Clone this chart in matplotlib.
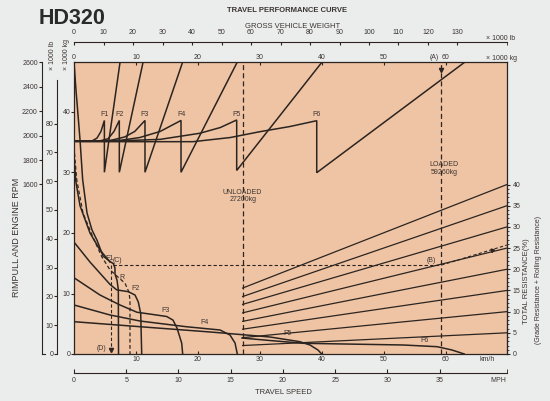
import matplotlib.pyplot as plt
from matplotlib.lines import Line2D

plt.rcParams['font.family'] = ['Liberation Sans', 'DejaVu Sans']

# ---------------- data ----------------
# engine rpm vs travel speed (km/h), one polyline per gear
g1_v = [0, 2.9, 3.7, 4.35, 4.9, 4.9, 7.42]
g1_rpm = [1955, 1957, 1980, 2035, 2125, 1700, 2600]
g2_v = [0, 4.2, 5.5, 6.45, 7.31, 7.31, 11.13]
g2_rpm = [1955, 1957, 1975, 2035, 2125, 1700, 2600]
g3_v = [0, 5.8, 8.2, 9.8, 11.45, 11.45, 17.5]
g3_rpm = [1955, 1960, 1990, 2035, 2125, 1700, 2600]
g4_v = [0, 7.4, 10.6, 13.9, 17.26, 17.26, 26.3]
g4_rpm = [1955, 1961, 1985, 2035, 2125, 1700, 2600]
g5_v = [0, 9.0, 13.9, 20.3, 23.6, 26.24, 26.24, 39.95]
g5_rpm = [1955, 1961, 1970, 2020, 2067, 2129, 1715, 2600]
g6_v = [0, 19.2, 25.2, 30.0, 34.8, 39.15, 39.15, 62.95]
g6_rpm = [1951, 1951, 1985, 2033, 2075, 2123, 1697, 2600]
gear_names = ['F1', 'F2', 'F3', 'F4', 'F5', 'F6']
gear_peak_v = [4.9, 7.31, 11.45, 17.26, 26.24, 39.15]

# rimpull (x1000 kg) vs travel speed (km/h)
f1_v = [0, 0.32, 0.65, 0.97, 1.40, 2.10, 2.90, 3.71, 4.68, 5.81, 6.37, 6.61, 6.61, 6.94, 7.15, 7.18]
f1_t = [48.3, 43.6, 39.5, 35.4, 28.8, 23.3, 20.5, 18.8, 16.2, 15.3, 14.9, 14.2, 13.2, 12.2, 10.6, 0]
s2_v = [0, 0.3, 0.97, 2.58, 4.19, 5.81]
s2_t = [32.5, 28.5, 24.5, 20.0, 17.2, 15.2]
r_v = [0, 0.44, 1.45, 3.06, 4.52, 5.81, 6.89, 8.23, 8.87, 9.03, 9.03]
r_t = [34.2, 28.8, 23.3, 19.3, 16.0, 13.9, 12.9, 11.7, 10.2, 8.9, 0]
f2_v = [0, 2.58, 5.81, 6.89, 8.76, 9.84, 10.37, 10.76, 10.92]
f2_t = [18.5, 15.2, 11.5, 10.6, 10.3, 9.75, 8.6, 6.7, 0]
f3_v = [0, 4.19, 7.42, 10.16, 12.26, 14.95, 15.97, 16.61, 17.37, 17.53]
f3_t = [12.6, 9.75, 8.1, 6.9, 6.6, 6.2, 5.6, 4.3, 1.8, 0]
f4_v = [0, 5.81, 10.65, 18.18, 23.55, 25.16, 25.97, 26.34]
f4_t = [8.1, 6.45, 5.45, 4.5, 3.97, 3.14, 1.82, 0]
f5_v = [0, 10.65, 21.94, 31.61, 36.45, 38.06, 39.35, 39.95]
f5_t = [5.34, 4.51, 3.64, 2.81, 2.03, 1.49, 0.66, 0]
f6_v = [27.1, 31.6, 36.94, 53.06, 58.55, 60.97, 62.95]
f6_t = [2.64, 2.23, 1.77, 1.49, 1.21, 0.66, 0]

# gross vehicle weight (x1000 kg) and total resistance lines
unloaded_t = 27.2
loaded_t = 59.26
res_pct = [5, 10, 15, 20, 25, 30, 35, 40]
res_span = [27.2, 69.8]
res_left = [1.4, 2.7, 4.1, 5.4, 6.8, 8.2, 9.5, 10.9]
res_right = [3.5, 7.0, 10.5, 14.0, 17.5, 21.0, 24.5, 28.0]

# worked example (A)-(B)-(C)-(D)
ex_rimpull = 14.7
ex_speed = 5.9
ex_c_speed = 6.3
ex_b_end = [69.8, 18.0]

# ---------------- layout ----------------
W, H = 550, 401
BG = '#ebedec'
PEACH = '#efc4a4'
INK = '#2b2420'
TXT = '#3b3431'


def fx(px):
    return px / W


def fy(py):
    return 1 - py / H


KMH_MAX = 433 / 6.2
T_MAX = 292 / 6.05
RPM_LO = 2000 - (354 - 135.7) / 0.122
RPM_HI = 2000 + (135.7 - 62) / 0.122

fig = plt.figure(figsize=(5.5, 4.01), dpi=100, facecolor=BG)

ax = fig.add_axes([fx(74), fy(354), 433 / W, 292 / H])
ax.set_facecolor(PEACH)
ax.set_xlim(0, KMH_MAX)
ax.set_ylim(0, T_MAX)
for s in ax.spines.values():
    s.set_color(INK)
    s.set_linewidth(0.9)
ax.set_xticks(range(10, 70, 10))
ax.set_yticks(range(0, 41, 10))
ax.tick_params(axis='x', direction='in', length=2.5, labelsize=5, pad=1.5,
               color=INK, labelcolor=TXT)
ax.tick_params(axis='y', direction='out', length=2, labelsize=5, pad=0.5,
               color=INK, labelcolor=TXT)

# rimpull curves
for xs, ys in [(f1_v, f1_t), (s2_v, s2_t), (f2_v, f2_t), (f3_v, f3_t),
               (f4_v, f4_t), (f5_v, f5_t), (f6_v, f6_t)]:
    ax.plot(xs, ys, color=INK, lw=1.1, solid_joinstyle='round')
ax.plot(r_v, r_t, color=INK, lw=0.9, ls=(0, (3, 2)))

# example dashed lines
ax.plot([ex_c_speed, loaded_t], [ex_rimpull, ex_rimpull], color=INK, lw=0.8, ls=(0, (3, 2)))
ax.plot([ex_speed, ex_speed], [ex_rimpull, 0.6], color=INK, lw=0.8, ls=(0, (3, 2)))
ax.plot([ex_speed], [0.6], marker='v', ms=3, color=INK)
ax.plot([loaded_t, ex_b_end[0]], [ex_rimpull, ex_b_end[1]], color=INK, lw=0.8, ls=(0, (3, 2)))
ax.plot([67.4], [17.25], marker=(3, 0, -73), ms=3, color=INK)

fs = 5
ax.text(5.65, 15.8, 'F1', fontsize=fs, color=TXT, ha='center', va='center')
ax.text(7.05, 15.45, '(C)', fontsize=fs, color=TXT, ha='center', va='center')
ax.text(7.7, 12.7, 'R', fontsize=fs, color=TXT, ha='center', va='center')
ax.text(9.9, 10.8, 'F2', fontsize=fs, color=TXT, ha='center', va='center')
ax.text(14.7, 7.2, 'F3', fontsize=fs, color=TXT, ha='center', va='center')
ax.text(21.1, 5.2, 'F4', fontsize=fs, color=TXT, ha='center', va='center')
ax.text(34.5, 3.4, 'F5', fontsize=fs, color=TXT, ha='center', va='center')
ax.text(56.6, 2.3, 'F6', fontsize=fs, color=TXT, ha='center', va='center')
ax.text(4.5, 0.9, '(D)', fontsize=fs, color=TXT, ha='center', va='center')
ax.text(57.7, 15.45, '(B)', fontsize=fs, color=TXT, ha='center', va='center')
ax.text(66.6, -0.95, 'km/h', fontsize=fs, color=TXT, ha='center', va='center')

# engine rpm (upper sawtooth)
ax_rpm = ax.twinx()
ax_rpm.set_ylim(RPM_LO, RPM_HI)
ax_rpm.set_axis_off()
for xs, ys in [(g1_v, g1_rpm), (g2_v, g2_rpm), (g3_v, g3_rpm),
               (g4_v, g4_rpm), (g5_v, g5_rpm), (g6_v, g6_rpm)]:
    ax_rpm.plot(xs, ys, color=INK, lw=1.1, solid_joinstyle='miter')
for name, v in zip(gear_names, gear_peak_v):
    ax_rpm.text(v, 2172, name, fontsize=fs, color=TXT, ha='center', va='center')

# gross vehicle weight (top kg axis) and resistance lines
ax_w = ax.twiny()
ax_w.set_xlim(0, KMH_MAX)
for s in ax_w.spines.values():
    s.set_visible(False)
ax_w.set_xticks(range(0, 61, 10))
ax_w.tick_params(axis='x', direction='in', length=2.5, labelsize=5, pad=1,
                 color=INK, labelcolor=TXT)
for yl, yr in zip(res_left, res_right):
    ax_w.plot(res_span, [yl, yr], color=INK, lw=0.9)
ax_w.axvline(unloaded_t, color=INK, lw=0.9, ls=(0, (4, 2.5)))
ax_w.axvline(loaded_t, color=INK, lw=0.9, ls=(0, (4, 2.5)))
ax_w.plot([loaded_t], [46.9], marker='v', ms=3, color=INK)
ax_w.text(unloaded_t, 26.1, 'UNLOADED\n27200kg', fontsize=5, color=TXT,
          ha='center', va='center', linespacing=1.1)
ax_w.text(loaded_t + 0.4, 30.7, 'LOADED\n59260kg', fontsize=5, color=TXT,
          ha='center', va='center', linespacing=1.1)

# total resistance axis (right)
ax_pct = ax.twinx()
ax_pct.set_ylim(0, T_MAX / 0.7)
for k in ['left', 'top', 'bottom']:
    ax_pct.spines[k].set_visible(False)
ax_pct.spines['right'].set_bounds(0, 40)
ax_pct.spines['right'].set_color(INK)
ax_pct.set_yticks(res_pct + [0])
ax_pct.set_yticks(range(0, 41), minor=True)
ax_pct.tick_params(axis='y', which='major', direction='out', length=2.5,
                   labelsize=5, pad=1.5, color=INK, labelcolor=TXT)
ax_pct.tick_params(axis='y', which='minor', direction='out', length=1.3, color=INK)

# left rpm axis
ax_lr = fig.add_axes([fx(42), fy(354), 1e-4, 292 / H])
ax_lr.set_ylim(RPM_LO, RPM_HI)
ax_lr.set_xticks([])
ax_lr.patch.set_visible(False)
for k in ['right', 'top', 'bottom']:
    ax_lr.spines[k].set_visible(False)
ax_lr.spines['left'].set_color(INK)
ax_lr.spines['left'].set_linewidth(0.8)
ax_lr.set_yticks(range(1600, 2601, 200))
ax_lr.tick_params(axis='y', direction='out', length=2.5, labelsize=5, pad=0.5,
                  color=INK, labelcolor=TXT)
fig.add_artist(Line2D([fx(42), fx(45)], [fy(354), fy(354)], color=INK, lw=0.8))

# left lb rimpull axis
ax_ll = fig.add_axes([fx(57), fy(354), 1e-4, 292 / H])
ax_ll.set_ylim(0, 292 / 2.88)
ax_ll.set_xticks([])
ax_ll.patch.set_visible(False)
for k in ['right', 'top', 'bottom']:
    ax_ll.spines[k].set_visible(False)
ax_ll.spines['left'].set_bounds(0, (354 - 80) / 2.88)
ax_ll.spines['left'].set_color(INK)
ax_ll.spines['left'].set_linewidth(0.8)
ax_ll.set_yticks(range(0, 81, 10))
ax_ll.tick_params(axis='y', direction='out', length=2, labelsize=5, pad=0.5,
                  color=INK, labelcolor=TXT)

# top lb gross weight axis
ax_tl = fig.add_axes([fx(74), fy(41.5), 433 / W, 1e-4])
ax_tl.set_xlim(0, 433 / 2.95)
ax_tl.set_yticks([])
ax_tl.patch.set_visible(False)
for k in ['left', 'right', 'top']:
    ax_tl.spines[k].set_visible(False)
ax_tl.spines['bottom'].set_color(INK)
ax_tl.spines['bottom'].set_linewidth(0.8)
ax_tl.set_xticks(range(0, 131, 10))
ax_tl.set_xticks([433 / 2.95], minor=True)
ax_tl.tick_params(axis='x', which='both', bottom=True, top=False, labelbottom=False,
                  labeltop=True, direction='out', length=2.5, labelsize=5, pad=1.5,
                  color=INK, labelcolor=TXT)

# bottom MPH axis
ax_m = fig.add_axes([fx(74), fy(373), 433 / W, 1e-4])
ax_m.set_xlim(0, 433 / 10.45)
ax_m.set_yticks([])
ax_m.patch.set_visible(False)
for k in ['left', 'right', 'top']:
    ax_m.spines[k].set_visible(False)
ax_m.spines['bottom'].set_color(INK)
ax_m.spines['bottom'].set_linewidth(0.8)
ax_m.set_xticks(range(0, 36, 5))
ax_m.set_xticks([433 / 10.45], minor=True)
ax_m.tick_params(axis='x', which='both', direction='in', length=3, labelsize=5,
                 pad=3, color=INK, labelcolor=TXT)

# texts
fig.text(fx(39), fy(19), 'HD320', fontsize=15.5, fontweight='bold', color='#2a2a2a',
         ha='left', va='center')
fig.text(fx(287), fy(10), 'TRAVEL PERFORMANCE CURVE', fontsize=5.5, fontweight='bold',
         color=TXT, ha='center', va='center')
fig.text(fx(293), fy(26.5), 'GROSS VEHICLE WEIGHT', fontsize=5.5, color=TXT,
         ha='center', va='center')
fig.text(fx(486), fy(38), '× 1000 lb', fontsize=5, color=TXT, ha='left', va='center')
fig.text(fx(486), fy(58), '× 1000 kg', fontsize=5, color=TXT, ha='left', va='center')
fig.text(fx(434), fy(57.5), '(A)', fontsize=5, color=TXT, ha='center', va='center')
fig.text(fx(52), fy(55), '× 1000 lb', fontsize=5, color=TXT, rotation=90,
         ha='center', va='center')
fig.text(fx(67), fy(55), '× 1000 kg', fontsize=5, color=TXT, rotation=90,
         ha='center', va='center')
fig.text(fx(17), fy(237), 'RIMPULL AND ENGINE RPM', fontsize=6.5, color=TXT, rotation=90,
         ha='center', va='center')
fig.text(fx(526), fy(281), 'TOTAL RESISTANCE(%)', fontsize=5.5, color=TXT, rotation=90,
         ha='center', va='center')
fig.text(fx(538), fy(280), '(Grade Resistance + Rolling Resistance)', fontsize=5,
         color=TXT, rotation=90, ha='center', va='center')
fig.text(fx(498), fy(381), 'MPH', fontsize=5, color=TXT, ha='center', va='center')
fig.text(fx(283), fy(392), 'TRAVEL SPEED', fontsize=5.5, color=TXT, ha='center',
         va='center')

fig.savefig('out.png', dpi=100, facecolor=BG)
